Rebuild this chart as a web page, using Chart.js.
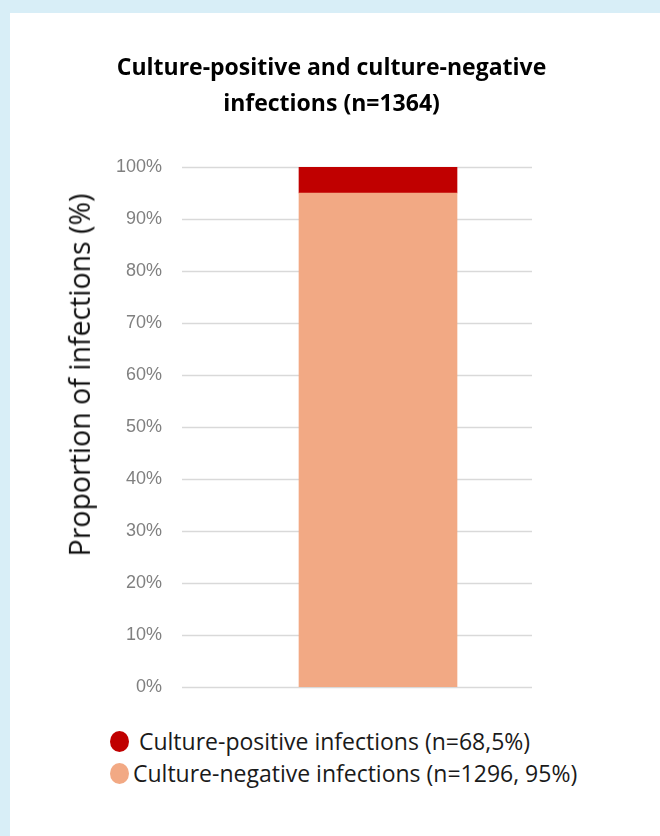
<!DOCTYPE html>
<html>
<head>
<meta charset="utf-8">
<script src="https://cdn.jsdelivr.net/npm/chart.js@4"></script>
<style>
  html, body { margin: 0; padding: 0; }
  body { width: 660px; height: 836px; background: #d8eef7; position: relative; overflow: hidden; }
  #panel { position: absolute; left: 10px; top: 13px; right: 0; bottom: 0; background: #ffffff; }
  #c { position: absolute; left: 0; top: 0; }
  #ytitle { position: absolute; left: 79px; top: 375px; transform: translate(-50%, -50%) rotate(-90deg);
            font-family: "Open Sans", sans-serif; font-size: 28.5px; color: #111; white-space: nowrap; line-height: 1.2; }
  #legend { position: absolute; left: 110px; top: 725px; font-family: "Open Sans", sans-serif; font-size: 23px; color: #1a1a1a; }
  .row { display: flex; align-items: center; height: 32px; white-space: pre; }
  .dot { width: 19px; height: 21px; border-radius: 50%; margin-right: 4px; flex: none; }
</style>
</head>
<body>
<div id="panel"></div>
<canvas id="c" width="660" height="720"></canvas>
<div id="ytitle"></div>
<div id="legend"></div>
<script>
const titleLines = ['Culture-positive and culture-negative', 'infections (n=1364)'];
const yAxisTitle = 'Proportion of infections (%)';
const categories = ['Infections'];
const negativeValues = [95];
const positiveValues = [5];
const seriesLabels = ['Culture-negative infections (n=1296, 95%)', ' Culture-positive infections (n=68,5%)'];
const seriesColors = ['#f2a984', '#c00000'];
const yTicks = [0, 10, 20, 30, 40, 50, 60, 70, 80, 90, 100];

const gridPlugin = {
  id: 'shortGrid',
  beforeDatasetsDraw(chart) {
    const y = chart.scales.y;
    const ctx = chart.ctx;
    const left = chart.chartArea.left;
    const right = left + 350;
    ctx.save();
    ctx.strokeStyle = '#d9d9d9';
    ctx.lineWidth = 1.5;
    yTicks.forEach(v => {
      const py = Math.round(y.getPixelForValue(v)) + 0.5;
      ctx.beginPath();
      ctx.moveTo(left, py);
      ctx.lineTo(right, py);
      ctx.stroke();
    });
    ctx.restore();
  }
};

new Chart(document.getElementById('c'), {
  type: 'bar',
  data: {
    labels: categories,
    datasets: [
      { label: seriesLabels[0], data: negativeValues, backgroundColor: seriesColors[0], barThickness: 158 },
      { label: seriesLabels[1], data: positiveValues, backgroundColor: seriesColors[1], barThickness: 158 }
    ]
  },
  options: {
    responsive: false,
    animation: false,
    layout: { padding: { left: 89, right: 86, top: 0, bottom: 33 } },
    plugins: {
      legend: { display: false },
      tooltip: { enabled: false },
      title: {
        display: true,
        text: titleLines,
        color: '#000000',
        font: { family: 'Open Sans', weight: 'bold', size: 23, lineHeight: 36 / 23 },
        padding: { top: 50, bottom: 45 }
      }
    },
    scales: {
      x: { stacked: true, display: false },
      y: {
        stacked: true,
        min: 0, max: 100,
        afterFit(scale) { scale.width = 93; },
        afterBuildTicks(scale) { scale.ticks = yTicks.map(v => ({ value: v })); },
        border: { display: false },
        grid: { display: false, drawTicks: false },
        ticks: {
          padding: 20,
          color: '#808080',
          font: { family: 'Liberation Sans', size: 18 },
          callback: v => v + '%'
        }
      }
    }
  },
  plugins: [gridPlugin]
});

document.getElementById('ytitle').textContent = yAxisTitle;
const legend = document.getElementById('legend');
[1, 0].forEach(i => {
  const row = document.createElement('div');
  row.className = 'row';
  const dot = document.createElement('span');
  dot.className = 'dot';
  dot.style.background = seriesColors[i];
  const txt = document.createElement('span');
  txt.textContent = seriesLabels[i];
  row.appendChild(dot);
  row.appendChild(txt);
  legend.appendChild(row);
});
</script>
</body>
</html>
